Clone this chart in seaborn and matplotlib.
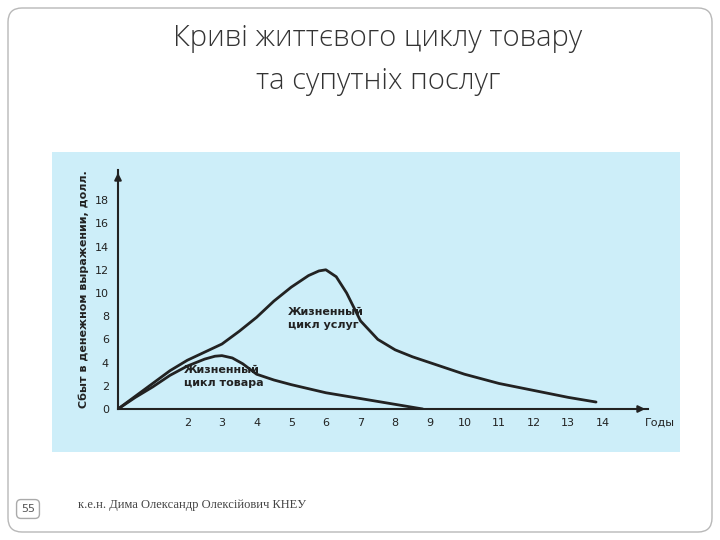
import matplotlib
matplotlib.use("Agg")
import matplotlib.pyplot as plt
import seaborn as sns
import pandas as pd
from matplotlib.patches import Rectangle, FancyBboxPatch

# Значення
years_service = [0, 0.5, 1, 1.5, 2, 2.5, 3, 3.5, 4, 4.5, 5, 5.5, 5.8, 6, 6.3, 6.6, 7, 7.5, 8, 8.5, 9, 10, 11, 12, 13, 13.8]
sales_service = [0, 1.1, 2.2, 3.3, 4.2, 4.9, 5.6, 6.7, 7.9, 9.3, 10.5, 11.5, 11.9, 12.0, 11.4, 10.0, 7.6, 6.0, 5.1, 4.5, 4.0, 3.0, 2.2, 1.6, 1.0, 0.6]
years_product = [0, 0.5, 1, 1.5, 2, 2.5, 2.8, 3, 3.3, 3.6, 4, 4.5, 5, 6, 7, 8, 8.8]
sales_product = [0, 1.0, 1.9, 2.9, 3.7, 4.3, 4.55, 4.6, 4.4, 3.9, 3.0, 2.5, 2.1, 1.4, 0.9, 0.4, 0.0]
x_ticks = list(range(1, 15))
x_labels = [""] + [str(v) for v in range(2, 15)]
y_ticks = list(range(0, 19, 2))

df = pd.concat([
    pd.DataFrame({"год": years_service, "сбыт": sales_service, "цикл": "услуги"}),
    pd.DataFrame({"год": years_product, "сбыт": sales_product, "цикл": "товар"}),
])

sns.set_style("white")
plt.rcParams["font.family"] = ["DejaVu Sans"]

fig = plt.figure(figsize=(7.2, 5.4), dpi=100)
fig.patch.set_facecolor("white")

# фон слайда: рамка і блакитна панель
bg = fig.add_axes([0, 0, 1, 1], zorder=0)
bg.set_axis_off()
bg.set_xlim(0, 720)
bg.set_ylim(540, 0)
bg.add_patch(FancyBboxPatch((8, 8), 704, 524, boxstyle="round,pad=0,rounding_size=14",
                            facecolor="none", edgecolor="#b8b8b8", lw=1))
bg.add_patch(Rectangle((52, 152), 628, 300, facecolor="#cdeef9", edgecolor="none"))

fig.text(0.525, 0.93, "Криві життєвого циклу товару", ha="center", va="center",
         fontsize=21, color="#333333", family="Open Sans", fontweight="light")
fig.text(0.525, 0.85, "та супутніх послуг", ha="center", va="center",
         fontsize=21, color="#333333", family="Open Sans", fontweight="light")
fig.text(28 / 720, 1 - 509 / 540, "55", ha="center", va="center", fontsize=8,
         color="#555555", bbox=dict(boxstyle="round,pad=0.4", fc="white", ec="#aaaaaa"))
fig.text(78 / 720, 1 - 505 / 540, "к.е.н. Дима Олександр Олексійович КНЕУ",
         ha="left", va="center", fontsize=9, color="#444444", family="Liberation Serif")

ax = fig.add_axes([118 / 720, 1 - 409 / 540, 530 / 720, 239 / 540], zorder=2)
ax.set_facecolor("none")
sns.lineplot(data=df, x="год", y="сбыт", units="цикл", estimator=None,
             color="#222222", lw=2, ax=ax, sort=False)
ax.set_xlim(0, 15.3)
ax.set_ylim(0, 20.6)
for s in ["top", "right"]:
    ax.spines[s].set_visible(False)
for s in ["left", "bottom"]:
    ax.spines[s].set_color("#222222")
    ax.spines[s].set_linewidth(1.5)
ax.annotate("", xy=(15.3, 0), xytext=(15.0, 0), annotation_clip=False,
            arrowprops=dict(arrowstyle="-|>", color="#222222", lw=1.5))
ax.annotate("", xy=(0, 20.6), xytext=(0, 20.0), annotation_clip=False,
            arrowprops=dict(arrowstyle="-|>", color="#222222", lw=1.5))
ax.set_xticks(x_ticks)
ax.set_xticklabels(x_labels)
ax.set_yticks(y_ticks)
ax.tick_params(direction="inout", length=6, width=1, colors="#222222", labelsize=8)
ax.set_xlabel("")
ax.set_ylabel("Сбыт в денежном выражении, долл.", fontsize=8, fontweight="bold", color="#222222")
ax.text(15.2, -1.2, "Годы", fontsize=8, ha="left", va="center", color="#222222")
ax.text(4.9, 7.0, "Жизненный\nцикл услуг", fontsize=8, fontweight="bold", color="#222222", linespacing=1.3)
ax.text(1.9, 2.0, "Жизненный\nцикл товара", fontsize=8, fontweight="bold", color="#222222", linespacing=1.3)

fig.savefig("out.png", dpi=100)
